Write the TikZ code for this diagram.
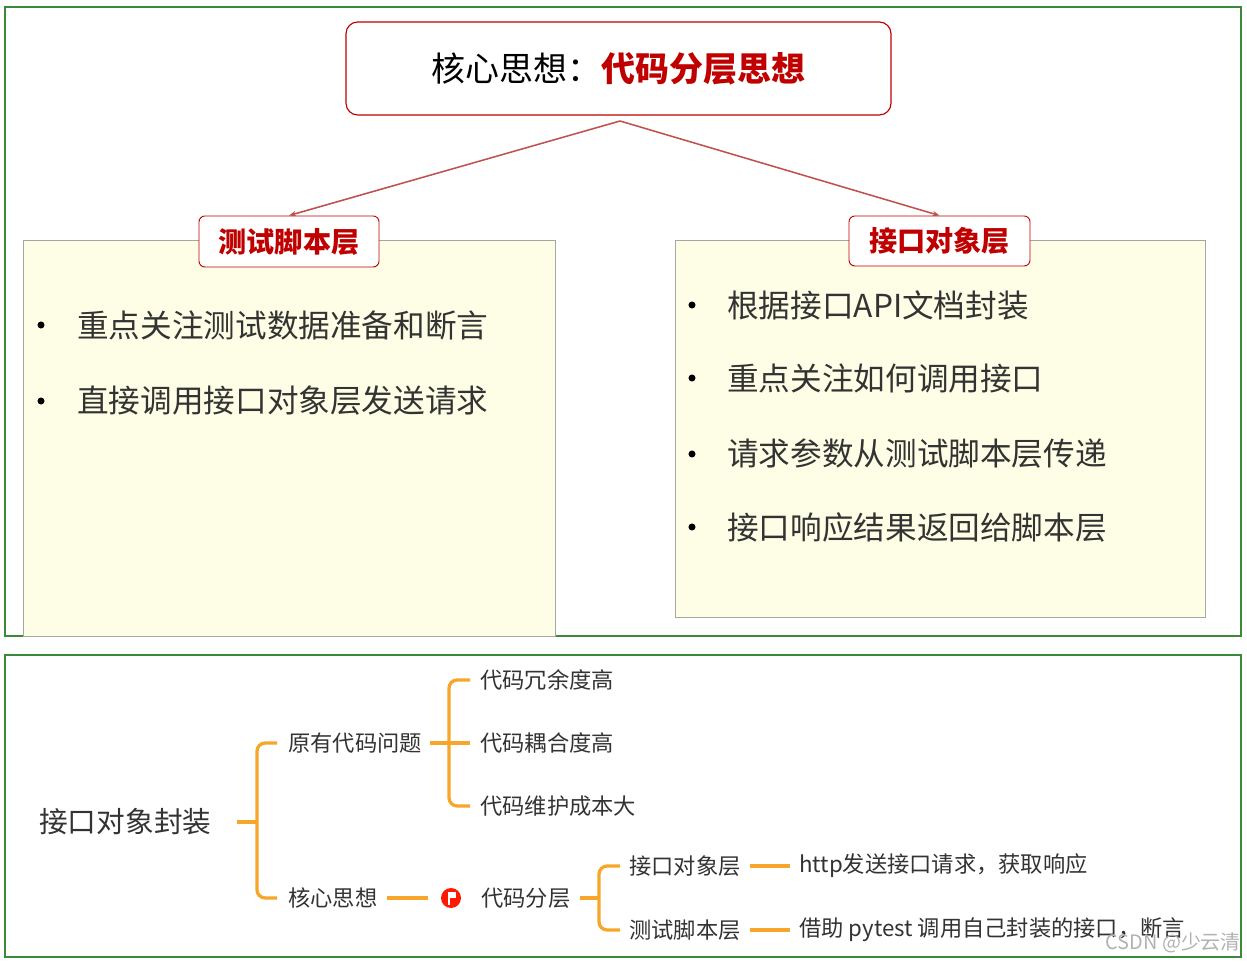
\documentclass[tikz,border=0pt]{standalone}
\usepackage{fontspec}
\setmainfont{Noto Sans CJK SC}
\usetikzlibrary{arrows.meta}
\definecolor{frameg}{HTML}{3A8A3A}
\definecolor{dred}{HTML}{C00000}
\definecolor{lred}{HTML}{C0504D}
\definecolor{pale}{HTML}{FEFEE6}
\definecolor{org}{HTML}{F7A62A}
\definecolor{txt}{HTML}{333333}
\tikzset{
 frame/.style={draw=frameg,line width=2pt},
 panel/.style={draw=black!35,fill=pale,line width=0.5pt},
 tag/.style={draw=dred,fill=white,rounded corners=5pt,line width=0.8pt,text=dred,font=\fontsize{24}{28}\selectfont\bfseries,inner sep=0pt},
 bul/.style={anchor=west,font=\fontsize{27}{30}\selectfont,text=txt,inner sep=0pt},
 dot/.style={circle,fill=black,inner sep=0pt,minimum size=6pt},
 conn/.style={draw=lred,line width=1.3pt,-{Stealth[length=6pt]}},
 mm/.style={anchor=west,font=\fontsize{19}{22}\selectfont,text=txt,inner sep=0pt},
 br/.style={draw=org,line width=2.8pt,rounded corners=7pt},
}
\begin{document}
\begin{tikzpicture}[x=0.03cm,y=-0.03cm]
\useasboundingbox (0,0) rectangle (1247,963);
\fill[white] (0,0) rectangle (1247,963);
\draw[frame] (5,7) rectangle (1241,636);
\draw[panel] (23,240) rectangle (555,636);
\draw[panel] (675,240) rectangle (1205,617);
\node[draw=dred,rounded corners=10pt,line width=1pt,minimum width=545*0.03cm,minimum height=93*0.03cm,font=\fontsize{29}{32}\selectfont] (title) at (618.5,68.5) {核心思想：\textcolor{dred}{\bfseries 代码分层思想}};
\coordinate (src) at (620,121);
\node[tag,minimum width=180*0.03cm,minimum height=51*0.03cm] (tl) at (289,241.5) {测试脚本层};
\node[tag,minimum width=181*0.03cm,minimum height=50*0.03cm] (tr) at (939.5,241) {接口对象层};
\draw[conn] (src) -- (tl.north);
\draw[conn] (src) -- (tr.north);
\node[dot] (d1) at (41,325) {}; \node[bul] (b1) at (77,325) {重点关注测试数据准备和断言};
\node[dot] (d2) at (41,401) {}; \node[bul] (b2) at (77,401) {直接调用接口对象层发送请求};
\node[dot] (d3) at (692,305) {}; \node[bul] (b3) at (727,305) {根据接口API文档封装};
\node[dot] (d4) at (692,378) {}; \node[bul] (b4) at (727,378) {重点关注如何调用接口};
\node[dot] (d5) at (692,454) {}; \node[bul] (b5) at (727,454) {请求参数从测试脚本层传递};
\node[dot] (d6) at (692,527) {}; \node[bul] (b6) at (727,527) {接口响应结果返回给脚本层};
\draw[frame] (5,655) rectangle (1241,957);
\node[mm,font=\fontsize{24.5}{28}\selectfont] (root) at (39,822) {接口对象封装};
\draw[br] (237,822) -- (257,822);
\draw[br] (277,743) -| (257,898) -- (277,898);
\node[mm] (p1) at (288,743) {原有代码问题};
\node[mm] (p2) at (288,898) {核心思想};
\draw[br] (430,743) -- (449,743);
\draw[br] (470,680) -| (449,806) -- (470,806);
\draw[br] (449,743) -- (470,743);
\node[mm] (c1) at (480,680) {代码冗余度高};
\node[mm] (c2) at (480,743) {代码耦合度高};
\node[mm] (c3) at (480,806) {代码维护成本大};
\node[circle,fill=red!80!orange,inner sep=0pt,minimum size=20*0.03cm] (flag) at (451,898) {};
\fill[white] (447.5,892) rectangle (449.5,905);
\fill[white] (449.5,892) rectangle (456,898);
\draw[br] (387,898) -- (428,898);
\node[mm] (p3) at (481,898) {代码分层};
\draw[br] (580,898) -- (599,898);
\draw[br] (620,866) -| (599,930) -- (620,930);
\node[mm] (q1) at (629,866) {接口对象层};
\node[mm] (q2) at (629,930) {测试脚本层};
\draw[br] (750,866) -- (790,866);
\draw[br] (750,930) -- (790,930);
\node[mm] (r1) at (799,866) {http发送接口请求，获取响应};
\node[mm] (r2) at (799,930) {借助 pytest 调用自己封装的接口，断言};
\node[anchor=east,text=black!30,font=\fontsize{17}{18}\selectfont,inner sep=0pt] (wm) at (1241,943) {CSDN @少云清};
\end{tikzpicture}
\end{document}
